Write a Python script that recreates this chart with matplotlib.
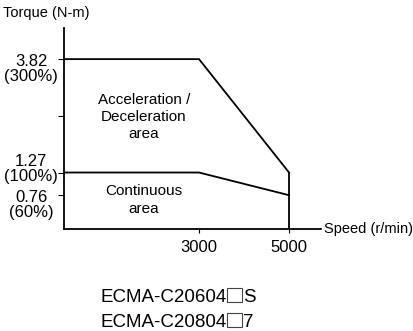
import matplotlib
matplotlib.use("Agg")
import matplotlib.pyplot as plt
from matplotlib.patches import Rectangle

plt.rcParams["font.family"] = ["Liberation Sans", "DejaVu Sans"]

# torque-speed envelope
speed_pts = [0, 3000, 5000]
torque_peak = [3.82, 3.82, 1.27]
torque_cont = [1.27, 1.27, 0.76]
speed_ticks = [3000, 5000]
torque_ticks = [0.76, 1.27, 2.55, 3.82]
torque_labels = [("3.82", "(300%)"), ("1.27", "(100%)"), ("0.76", "(60%)")]
model_prefix = ["ECMA-C20604", "ECMA-C20804"]
model_suffix = ["S", "7"]

W, H = 413, 331
fig = plt.figure(figsize=(W / 100, H / 100), dpi=100)


def px(x, y):
    return x / W, 1 - y / H


ax = fig.add_axes([64 / W, 1 - 229 / H, (321 - 64) / W, (229 - 28) / H])
ax.set_xlim(0, 5710)
ax.set_ylim(0, 4.52)
for s in ("top", "right"):
    ax.spines[s].set_visible(False)
for s in ("left", "bottom"):
    ax.spines[s].set_linewidth(1.3)

lw = 1.3
ax.plot(speed_pts, torque_peak, color="black", lw=lw, solid_joinstyle="miter")
ax.plot(speed_pts, torque_cont, color="black", lw=lw, solid_joinstyle="miter")
ax.vlines(speed_pts[-1], 0, torque_peak[-1], color="black", lw=lw)

ax.set_xticks(speed_ticks)
ax.set_xticklabels([str(v) for v in speed_ticks], fontsize=12)
ax.set_yticks(torque_ticks)
ax.set_yticklabels([])
ax.tick_params(axis="x", length=3, width=0.8, pad=5)
ax.tick_params(axis="y", length=4, width=0.8)

# y labels with percentages
fs = 12
label_rows = [(61, 77), (161, 177), (197, 213)]
for (num, pct), (y1, y2) in zip(torque_labels, label_rows):
    fig.text(*px(31, y1), num, ha="center", va="center", fontsize=fs)
    fig.text(*px(31, y2), pct, ha="center", va="center", fontsize=fs)

fig.text(*px(3, 13), "Torque (N-m)", ha="left", va="center", fontsize=10.5)
fig.text(*px(324, 229), "Speed (r/min)", ha="left", va="center", fontsize=10.5)

fig.text(*px(144, 117), "Acceleration /\nDeceleration\narea", ha="center",
         va="center", fontsize=11, linespacing=1.3)
fig.text(*px(144, 200), "Continuous\narea", ha="center", va="center",
         fontsize=11, linespacing=1.3)

# model names with the blank code box
renderer = fig.canvas.get_renderer()
for pre, suf, yb in zip(model_prefix, model_suffix, [302, 327]):
    t = fig.text(*px(100, yb), pre, ha="left", va="baseline", fontsize=13.5)
    x_end = t.get_window_extent(renderer).x1
    bx = x_end + 1
    fig.patches.append(Rectangle((bx / W, (H - yb) / H), 15 / W, 14 / H,
                                 transform=fig.transFigure, fill=False,
                                 ec="#444444", lw=0.8))
    fig.text((bx + 16) / W, (H - yb) / H, suf, ha="left", va="baseline",
             fontsize=13.5)

fig.savefig("out.png", dpi=100)
